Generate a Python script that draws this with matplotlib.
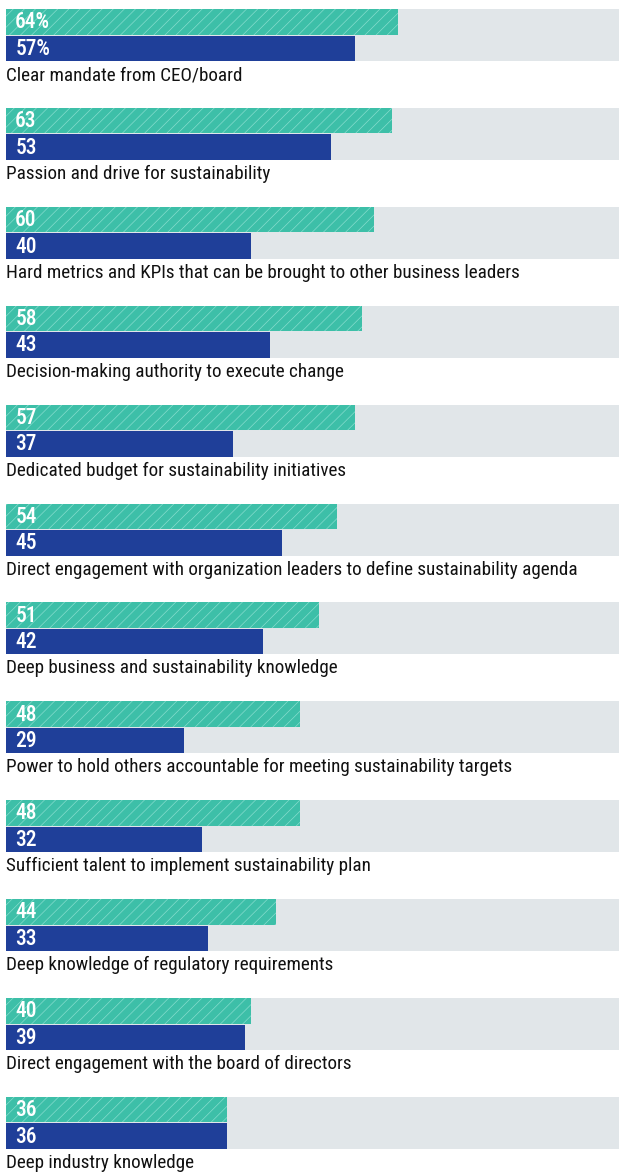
import matplotlib
matplotlib.use("Agg")
import matplotlib.pyplot as plt

categories = [
    "Clear mandate from CEO/board",
    "Passion and drive for sustainability",
    "Hard metrics and KPIs that can be brought to other business leaders",
    "Decision-making authority to execute change",
    "Dedicated budget for sustainability initiatives",
    "Direct engagement with organization leaders to define sustainability agenda",
    "Deep business and sustainability knowledge",
    "Power to hold others accountable for meeting sustainability targets",
    "Sufficient talent to implement sustainability plan",
    "Deep knowledge of regulatory requirements",
    "Direct engagement with the board of directors",
    "Deep industry knowledge",
]
series_a = [64, 63, 60, 58, 57, 54, 51, 48, 48, 44, 40, 36]
series_b = [57, 53, 40, 43, 37, 45, 42, 29, 32, 33, 39, 36]

fam = ["Roboto Condensed", "DejaVu Sans"]

plt.rcParams["hatch.linewidth"] = 0.5
W, H = 620, 1174
fig = plt.figure(figsize=(W / 100, H / 100), dpi=100)
ax = fig.add_axes([6 / W, 0, 613 / W, 1])
ax.set_xlim(0, 100)
ax.set_ylim(H, 0)
ax.axis("off")

teal = "#3dbfa8"
blue = "#1f3f99"
grey = "#e1e6e9"
bh = 25.5
step = 98.9
top0 = 9.0

for i, (cat, a, b) in enumerate(zip(categories, series_a, series_b)):
    t = top0 + i * step
    ax.barh(t, 100, height=2 * bh + 1, align="edge", color=grey, linewidth=0)
    ax.barh(t, a, height=bh, align="edge", color=teal, edgecolor="#86dccd",
            hatch="///", linewidth=0)
    ax.barh(t + bh + 1, b, height=bh, align="edge", color=blue, linewidth=0)
    sa = f"{a}%" if i == 0 else f"{a}"
    sb = f"{b}%" if i == 0 else f"{b}"
    ax.text(1.5, t + bh / 2 + 0.5, sa, color="white", fontsize=15.5, fontweight="medium",
            family=fam, va="center", ha="left")
    ax.text(1.5, t + bh * 1.5 + 1.5, sb, color="white", fontsize=15.5, fontweight="medium",
            family=fam, va="center", ha="left")
    ax.text(0, t + 2 * bh + 15, cat, color="#111111", fontsize=13.8,
            family=fam, va="center", ha="left")

fig.savefig("out.png", dpi=100)
